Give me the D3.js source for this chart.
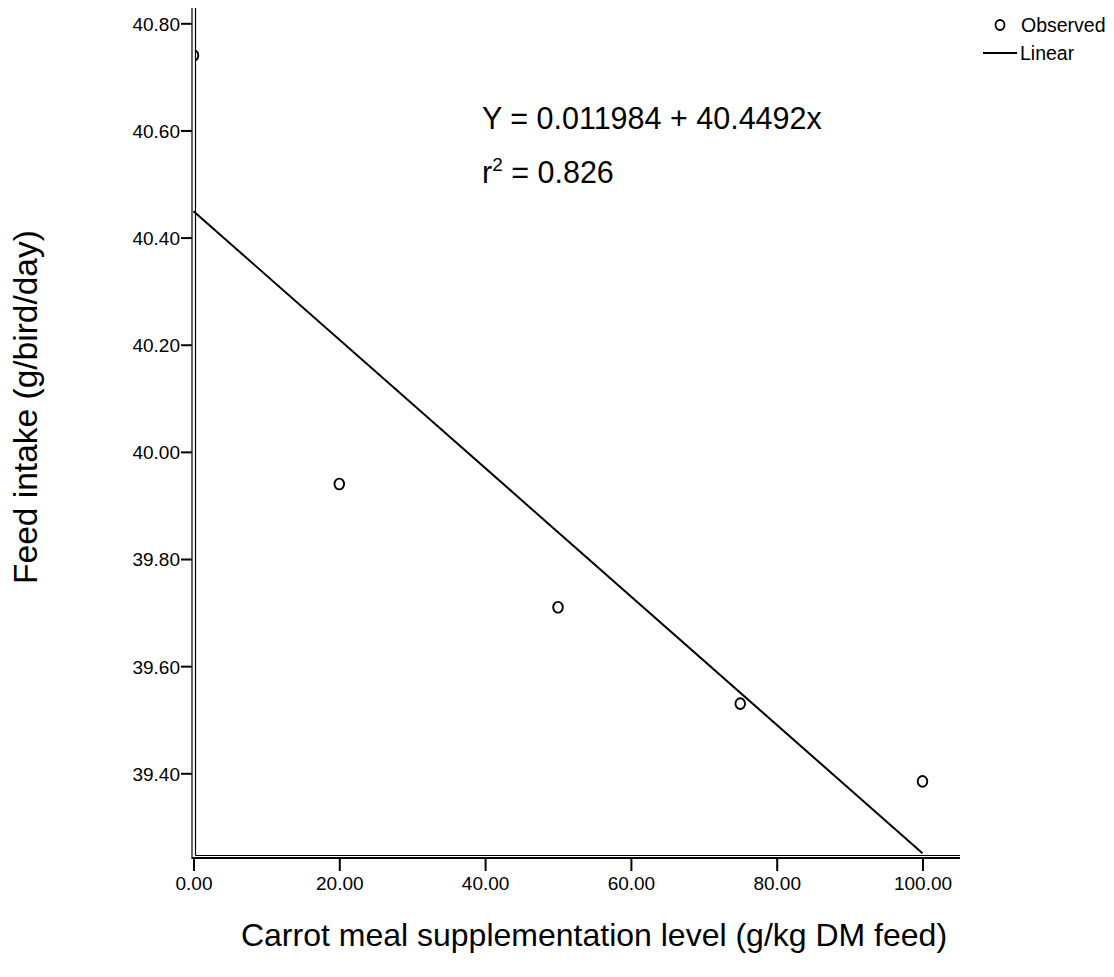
<!DOCTYPE html>
<html><head><meta charset="utf-8">
<script src="https://cdn.jsdelivr.net/npm/d3@7"></script>
<style>
html,body{margin:0;padding:0;background:#fff;}
text{font-family:"Liberation Sans",Arial,sans-serif;fill:#000;}
</style></head>
<body><svg id="c" width="1114" height="977"></svg>
<script>
// Data
const levels = [0, 20, 50, 75, 100];
const feedIntake = [40.74, 39.94, 39.71, 39.53, 39.385];
const fitX = [0, 100];
const fitY = [40.4492, 39.2508];
const xTicks = [0, 20, 40, 60, 80, 100];
const yTicks = [39.4, 39.6, 39.8, 40.0, 40.2, 40.4, 40.6, 40.8];

const svg = d3.select("#c");
const x = d3.scaleLinear().domain([0, 100]).range([193.5, 922.5]);
const y = d3.scaleLinear().domain([39.4, 40.8]).range([773.3, 23.3]);

const axL = 192, frL = 195.5, axB = 858, frB = 855.5, topY = 8, rightX = 960;

svg.append("defs").append("clipPath").attr("id","clip")
  .append("rect").attr("x", frL - 0.5).attr("y", 0).attr("width", rightX - frL).attr("height", frB);

// frame/axis lines
svg.append("line").attr("x1", axL).attr("x2", axL).attr("y1", topY).attr("y2", axB+1)
  .attr("stroke","#000").attr("stroke-width",1.2);
svg.append("line").attr("x1", frL).attr("x2", frL).attr("y1", topY).attr("y2", frB)
  .attr("stroke","#000").attr("stroke-width",1.2);
svg.append("line").attr("x1", axL).attr("x2", rightX).attr("y1", axB).attr("y2", axB)
  .attr("stroke","#000").attr("stroke-width",2);
svg.append("line").attr("x1", frL).attr("x2", rightX).attr("y1", frB).attr("y2", frB)
  .attr("stroke","#000").attr("stroke-width",1.2);

const fam = '"Liberation Sans",Arial,sans-serif';
// y axis ticks
const yAxis = d3.axisLeft(y).tickValues(yTicks).tickFormat(d3.format(".2f")).tickSize(11).tickPadding(1);
const gy = svg.append("g").attr("transform", `translate(${axL},0)`).call(yAxis);
gy.select(".domain").remove();
gy.selectAll(".tick line").attr("stroke","#000").attr("stroke-width",2);
gy.selectAll(".tick text").attr("font-size", 19).attr("font-family",fam).attr("fill","#000").attr("dy","0.36em");

// x axis ticks
const xAxis = d3.axisBottom(x).tickValues(xTicks).tickFormat(d3.format(".2f")).tickSize(13).tickPadding(6);
const gx = svg.append("g").attr("transform", `translate(0,${axB})`).call(xAxis);
gx.select(".domain").remove();
gx.selectAll(".tick line").attr("stroke","#000").attr("stroke-width",2);
gx.selectAll(".tick text").attr("font-size", 19).attr("font-family",fam).attr("fill","#000");

// fit line
const fit = fitX.map((v,i)=>[v, fitY[i]]);
svg.append("path").datum(fit)
  .attr("d", d3.line().x(d=>x(d[0])).y(d=>y(d[1])))
  .attr("fill","none").attr("stroke","#000").attr("stroke-width",2);

// points
svg.append("g").attr("clip-path","url(#clip)").selectAll("ellipse")
  .data(levels.map((v,i)=>[v, feedIntake[i]])).join("ellipse")
  .attr("cx", d=>x(d[0])).attr("cy", d=>y(d[1])).attr("rx", 4.8).attr("ry", 5.4)
  .attr("fill","none").attr("stroke","#000").attr("stroke-width",1.9);

// equation
svg.append("text").attr("x", 482).attr("y", 129).attr("font-size", 30.5).text("Y = 0.011984 + 40.4492x");
const r2 = svg.append("text").attr("x", 482).attr("y", 183).attr("font-size", 30.5);
r2.append("tspan").text("r");
r2.append("tspan").attr("font-size", 19).attr("dy", -12).text("2");
r2.append("tspan").attr("dy", 12).text(" = 0.826");

// axis titles
svg.append("text").attr("x", 594).attr("y", 946).attr("text-anchor","middle").attr("font-size", 32)
  .text("Carrot meal supplementation level (g/kg DM feed)");
svg.append("text").attr("transform", "translate(37,407) rotate(-90)").attr("text-anchor","middle").attr("font-size", 33.5)
  .text("Feed intake (g/bird/day)");

// legend
svg.append("ellipse").attr("cx", 1000).attr("cy", 25).attr("rx", 4.5).attr("ry", 5)
  .attr("fill","none").attr("stroke","#000").attr("stroke-width",1.8);
svg.append("text").attr("x", 1021).attr("y", 32).attr("font-size", 19.5).text("Observed");
svg.append("line").attr("x1", 983).attr("x2", 1017).attr("y1", 53).attr("y2", 53)
  .attr("stroke","#000").attr("stroke-width",2);
svg.append("text").attr("x", 1020).attr("y", 60).attr("font-size", 19.5).text("Linear");
</script>
</body></html>
